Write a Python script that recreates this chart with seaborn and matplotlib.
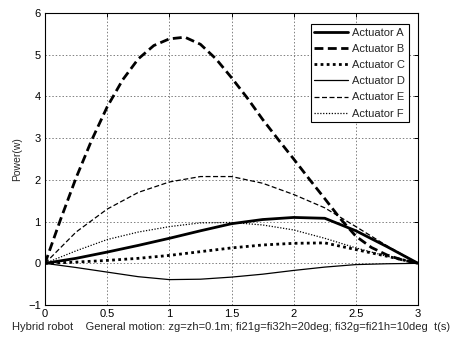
import numpy as np
import pandas as pd
import seaborn as sns
import matplotlib
matplotlib.use("Agg")
import matplotlib.pyplot as plt

t = [0, 0.25, 0.5, 0.75, 1.0, 1.25, 1.5, 1.75, 2.0, 2.25, 2.5, 2.75, 3.0]
act_a = [0, 0.12, 0.27, 0.43, 0.60, 0.78, 0.95, 1.05, 1.10, 1.08, 0.78, 0.40, 0]
act_c = [0, 0.03, 0.07, 0.12, 0.19, 0.28, 0.37, 0.44, 0.48, 0.49, 0.33, 0.17, 0]
act_d = [0, -0.10, -0.21, -0.32, -0.39, -0.38, -0.33, -0.26, -0.17, -0.09, -0.03, -0.01, 0]
act_e = [0, 0.75, 1.30, 1.70, 1.95, 2.08, 2.08, 1.92, 1.65, 1.33, 0.88, 0.42, 0]
act_f = [0, 0.30, 0.57, 0.75, 0.88, 0.97, 0.98, 0.92, 0.80, 0.60, 0.37, 0.17, 0]
t_b = [0, 0.125, 0.25, 0.375, 0.5, 0.625, 0.75, 0.875, 1.0, 1.125, 1.25, 1.375,
       1.5, 1.625, 1.75, 1.875, 2.0, 2.125, 2.25, 2.375, 2.5, 2.625, 2.75, 2.875, 3.0]
act_b = [0, 1.05, 2.05, 2.95, 3.75, 4.40, 4.90, 5.22, 5.38, 5.42, 5.25, 4.90,
         4.45, 3.97, 3.45, 2.97, 2.50, 2.02, 1.55, 1.07, 0.65, 0.38, 0.20, 0.08, 0]
labels = ["Actuator A", "Actuator B", "Actuator C", "Actuator D", "Actuator E", "Actuator F"]
xticks = [0, 0.5, 1, 1.5, 2, 2.5, 3]
yticks = [-1, 0, 1, 2, 3, 4, 5, 6]

sns.set_style("white")
plt.rcParams['font.family'] = ['Liberation Sans', 'DejaVu Sans']

fig = plt.figure(figsize=(4.5, 3.42), dpi=100)
ax = fig.add_axes([0.1, 0.108, 0.829, 0.854])

series = [(t, act_a), (t_b, act_b), (t, act_c), (t, act_d), (t, act_e), (t, act_f)]
styles = [
    dict(linestyle='-', linewidth=2.0),
    dict(linestyle=(0, (3.2, 1.6)), linewidth=2.0),
    dict(linestyle=(0, (1, 1.2)), linewidth=2.0),
    dict(linestyle='-', linewidth=0.9),
    dict(linestyle=(0, (4, 2)), linewidth=0.9),
    dict(linestyle=(0, (1, 1.3)), linewidth=0.9),
]
for (tt, vals), lab, st in zip(series, labels, styles):
    df = pd.DataFrame({"t": tt, "p": vals})
    sns.lineplot(data=df, x="t", y="p", ax=ax, color="black", label=lab, **st)

ax.set_xlim(0, 3)
ax.set_ylim(-1, 6)
ax.set_xticks(xticks)
ax.set_xticklabels([f"{v:g}" for v in xticks])
ax.set_yticks(yticks)
ax.grid(True, color="#808080", linestyle=(0, (1.5, 2)), linewidth=0.7)
for s in ax.spines.values():
    s.set_color("black")
    s.set_linewidth(0.8)
ax.tick_params(direction='in', top=True, right=True, length=3, width=0.7,
               labelsize=8, colors="black", pad=3)
ax.set_ylabel("Power(w)", fontsize=7.5, labelpad=4)
ax.set_xlabel("Hybrid robot    General motion: zg=zh=0.1m; fi21g=fi32h=20deg; fi32g=fi21h=10deg  t(s)",
              fontsize=8, labelpad=2)
leg = ax.legend(loc="upper right", bbox_to_anchor=(0.976, 0.962), fontsize=8,
                frameon=True, fancybox=False, framealpha=1, edgecolor="black",
                handlelength=3.0, handletextpad=0.4, borderpad=0.35,
                labelspacing=0.55, borderaxespad=0)
leg.get_frame().set_linewidth(0.8)

fig.savefig("out.png", dpi=100)
